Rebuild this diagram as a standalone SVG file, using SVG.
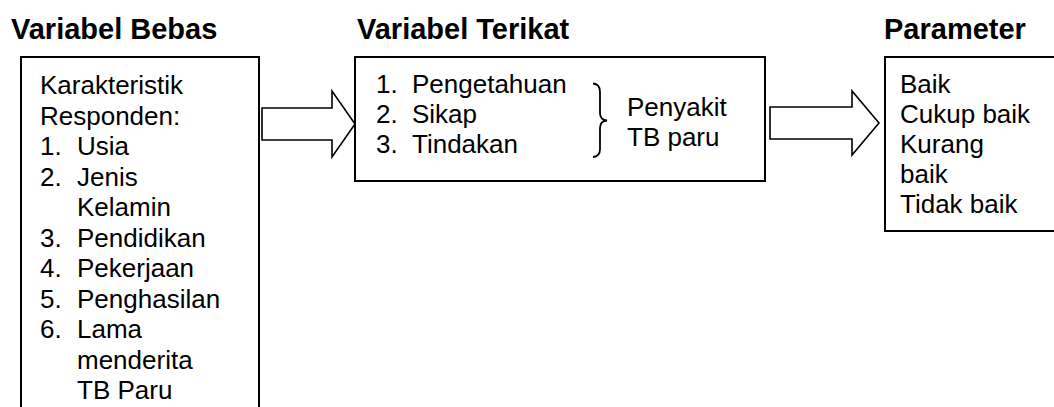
<svg xmlns="http://www.w3.org/2000/svg" width="1054" height="407" viewBox="0 0 1054 407">
  <style>
    .title { font-family: "Liberation Sans", Arial, sans-serif; font-size: 29px; font-weight: bold; fill: #000; }
    .txt { font-family: "Liberation Sans", Arial, sans-serif; font-size: 26px; fill: #000; }
    .box { fill: #fff; stroke: #000; stroke-width: 2; }
    .arrow { fill: #fff; stroke: #000; stroke-width: 1.6; stroke-linejoin: miter; }
    .brace { fill: none; stroke: #000; stroke-width: 1.8; }
  </style>
  <rect width="1054" height="407" fill="#fff"/>

  <!-- column headings -->
  <g id="headings">
    <text class="title" x="11" y="39">Variabel Bebas</text>
    <text class="title" x="357" y="39">Variabel Terikat</text>
    <text class="title" x="884" y="39">Parameter</text>
  </g>

  <!-- independent variables (box runs past the bottom edge) -->
  <g id="variabel-bebas">
    <rect class="box" x="21" y="57" width="238" height="380"/>
    <text class="txt" x="40" y="94">Karakteristik</text>
    <text class="txt" x="40" y="124.5">Responden:</text>
    <text class="txt" x="40" y="155">1.</text><text class="txt" x="77" y="155">Usia</text>
    <text class="txt" x="40" y="185.5">2.</text><text class="txt" x="77" y="185.5">Jenis</text>
    <text class="txt" x="77" y="216">Kelamin</text>
    <text class="txt" x="40" y="246.5">3.</text><text class="txt" x="77" y="246.5">Pendidikan</text>
    <text class="txt" x="40" y="277">4.</text><text class="txt" x="77" y="277">Pekerjaan</text>
    <text class="txt" x="40" y="307.5">5.</text><text class="txt" x="77" y="307.5">Penghasilan</text>
    <text class="txt" x="40" y="338">6.</text><text class="txt" x="77" y="338">Lama</text>
    <text class="txt" x="77" y="368.5">menderita</text>
    <text class="txt" x="77" y="399">TB Paru</text>
  </g>

  <!-- dependent variables -->
  <g id="variabel-terikat">
    <rect class="box" x="355" y="57" width="410" height="124"/>
    <text class="txt" x="376" y="92.5">1.</text><text class="txt" x="412" y="92.5">Pengetahuan</text>
    <text class="txt" x="376" y="122.5">2.</text><text class="txt" x="412" y="122.5">Sikap</text>
    <text class="txt" x="376" y="152.5">3.</text><text class="txt" x="412" y="152.5">Tindakan</text>
    <path class="brace" d="M593,83.5 Q600,84 600,92 L600,113 Q600,120 607,120.5 Q600,121 600,128 L600,149 Q600,156.5 593,157"/>
    <text class="txt" x="627" y="116">Penyakit</text>
    <text class="txt" x="627" y="146">TB paru</text>
  </g>

  <!-- outcome categories (box runs past the right edge) -->
  <g id="parameter">
    <rect class="box" x="885" y="57" width="200" height="174"/>
    <text class="txt" x="900" y="93">Baik</text>
    <text class="txt" x="900" y="123">Cukup baik</text>
    <text class="txt" x="900" y="153">Kurang</text>
    <text class="txt" x="900" y="183">baik</text>
    <text class="txt" x="900" y="213">Tidak baik</text>
  </g>

  <!-- block arrows between the columns -->
  <g id="connectors">
    <path class="arrow" d="M262,108 L332,108 L332,91 L355,124 L332,157 L332,140 L262,140 Z"/>
    <path class="arrow" d="M770,107 L852,107 L852,91 L879,123 L852,155 L852,139 L770,139 Z"/>
  </g>
</svg>
